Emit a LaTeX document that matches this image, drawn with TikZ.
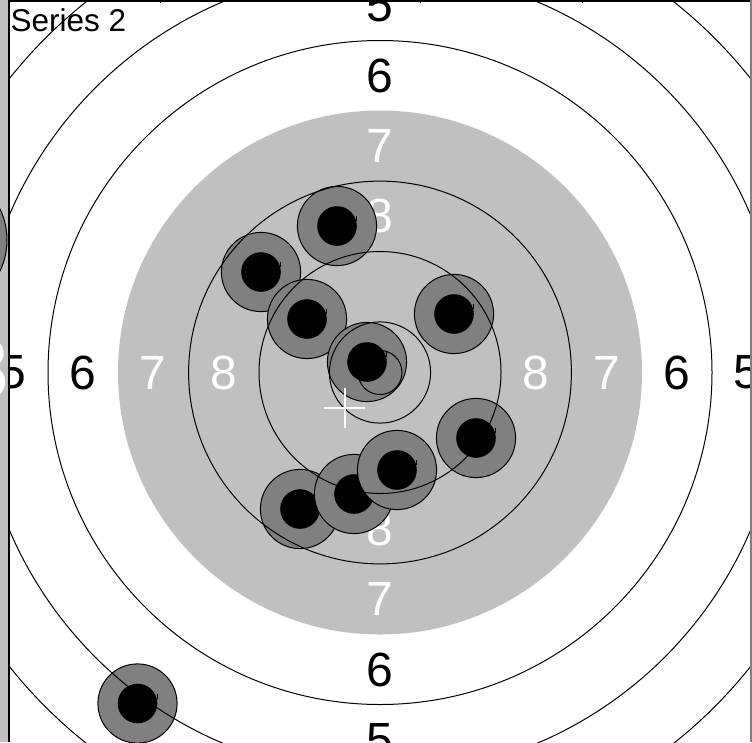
\documentclass[tikz,border=0pt]{standalone}
\usepackage{fontspec}
\setmainfont{Liberation Sans}
\definecolor{tgray}{HTML}{C0C0C0}
\definecolor{shotgray}{HTML}{808080}
\tikzset{
  ringline/.style={draw=black, line width=1pt},
  numblack/.style={inner sep=0pt, text=black, font=\fontsize{48}{48}\selectfont},
  numwhite/.style={inner sep=0pt, text=white, font=\fontsize{48}{48}\selectfont},
  shotouter/.style={fill=shotgray, draw=black, line width=1pt},
  shotinner/.style={fill=black},
  shottick/.style={draw=black, line width=1.2pt},
  crossline/.style={draw=white, line width=2pt},
  frameline/.style={draw=black, line width=1.5pt}
}
\newcommand{\shot}[3]{%
  \fill[shotouter] (#1,#2) circle[radius=39.6pt];
  \fill[shotinner] (#1,#2) circle[radius=19.8pt];
  \draw[shottick] ($(#1,#2)+(19.6,-10)$) -- ($(#1,#2)+(19.6,-5)$);
  \coordinate (#3) at (#1,#2);
}
\usetikzlibrary{calc}
\begin{document}
\begin{tikzpicture}[x=1pt,y=-1pt]
\useasboundingbox (0,0) rectangle (752,742);
\fill[white] (0,0) rectangle (752,742);
\coordinate (c) at (380,372.5);
\begin{scope}
  \clip (9,0) rectangle (750.5,742);
  \fill[tgray] (c) circle[radius=262pt];
  % labels
  \node[numblack] (l5t) at (380,5.2) {5};
  \node[numblack] (l6t) at (380,75.5) {6};
  \node[numwhite] (l7t) at (380,145.8) {7};
  \node[numwhite] (l8t) at (380,216.3) {8};
  \node[numwhite] (l8b) at (380,528.7) {8};
  \node[numwhite] (l7b) at (380,599.2) {7};
  \node[numblack] (l6b) at (380,669.5) {6};
  \node[numblack] (l5b) at (380,739.8) {5};
  \node[numblack] (l5l) at (12.7,372.5) {5};
  \node[numblack] (l6l) at (83,372.5) {6};
  \node[numwhite] (l7l) at (153.3,372.5) {7};
  \node[numwhite] (l8l) at (223.8,372.5) {8};
  \node[numwhite] (l8r) at (536.2,372.5) {8};
  \node[numwhite] (l7r) at (606.7,372.5) {7};
  \node[numblack] (l6r) at (677,372.5) {6};
  \node[numblack] (l5r) at (747.3,372.5) {5};
  % shots
  \shot{337}{226}{sA}
  \shot{261}{272}{sB}
  \shot{307}{319}{sC}
  \shot{454}{314}{sD}
  \shot{367}{362}{sE}
  \shot{300}{509}{sI}
  \shot{354}{494}{sH}
  \shot{397}{470}{sG}
  \shot{476}{438}{sF}
  \shot{137.5}{703.5}{sJ}
  % ring lines
  \draw[ringline] (c) circle[radius=473pt];
  \draw[ringline] (c) circle[radius=402.6pt];
  \draw[ringline] (c) circle[radius=332pt];
  \draw[ringline] (c) circle[radius=191.4pt];
  \draw[ringline] (c) circle[radius=121pt];
  \draw[ringline] (c) circle[radius=50.6pt];
  \draw[ringline] (c) circle[radius=22pt];
  % mean point cross
  \coordinate (mp) at (344.5,408);
  \draw[crossline] ($(mp)+(-20.5,0)$) -- ($(mp)+(20.5,0)$);
  \draw[crossline] ($(mp)+(0,-20)$) -- ($(mp)+(0,20)$);
\end{scope}
% neighbouring panel strip on the left
\begin{scope}
  \clip (0,0) rectangle (8,742);
  \fill[tgray] (0,0) rectangle (8,742);
  \fill[shotouter] (-65,240) circle[radius=72pt];
  \node[inner sep=0pt, text=white, anchor=east, font=\fontsize{86}{86}\selectfont] (nb8) at (9.5,369) {8};
\end{scope}
% frame
\draw[frameline] (9,0) -- (9,742);
\draw[frameline] (9,0.75) -- (752,0.75);
\draw[draw=gray, line width=1.5pt] (751,0) -- (751,742);
\draw[draw=black, line width=1pt] (160,0) -- (160,3);
\draw[draw=black, line width=1pt] (420,0) -- (420,3);
\draw[draw=black, line width=1pt] (582,0) -- (582,3);
\node[inner sep=0pt, anchor=base west, font=\fontsize{31.5}{31.5}\selectfont] (title) at (10.5,31.5) {Series 2};
\end{tikzpicture}
\end{document}
